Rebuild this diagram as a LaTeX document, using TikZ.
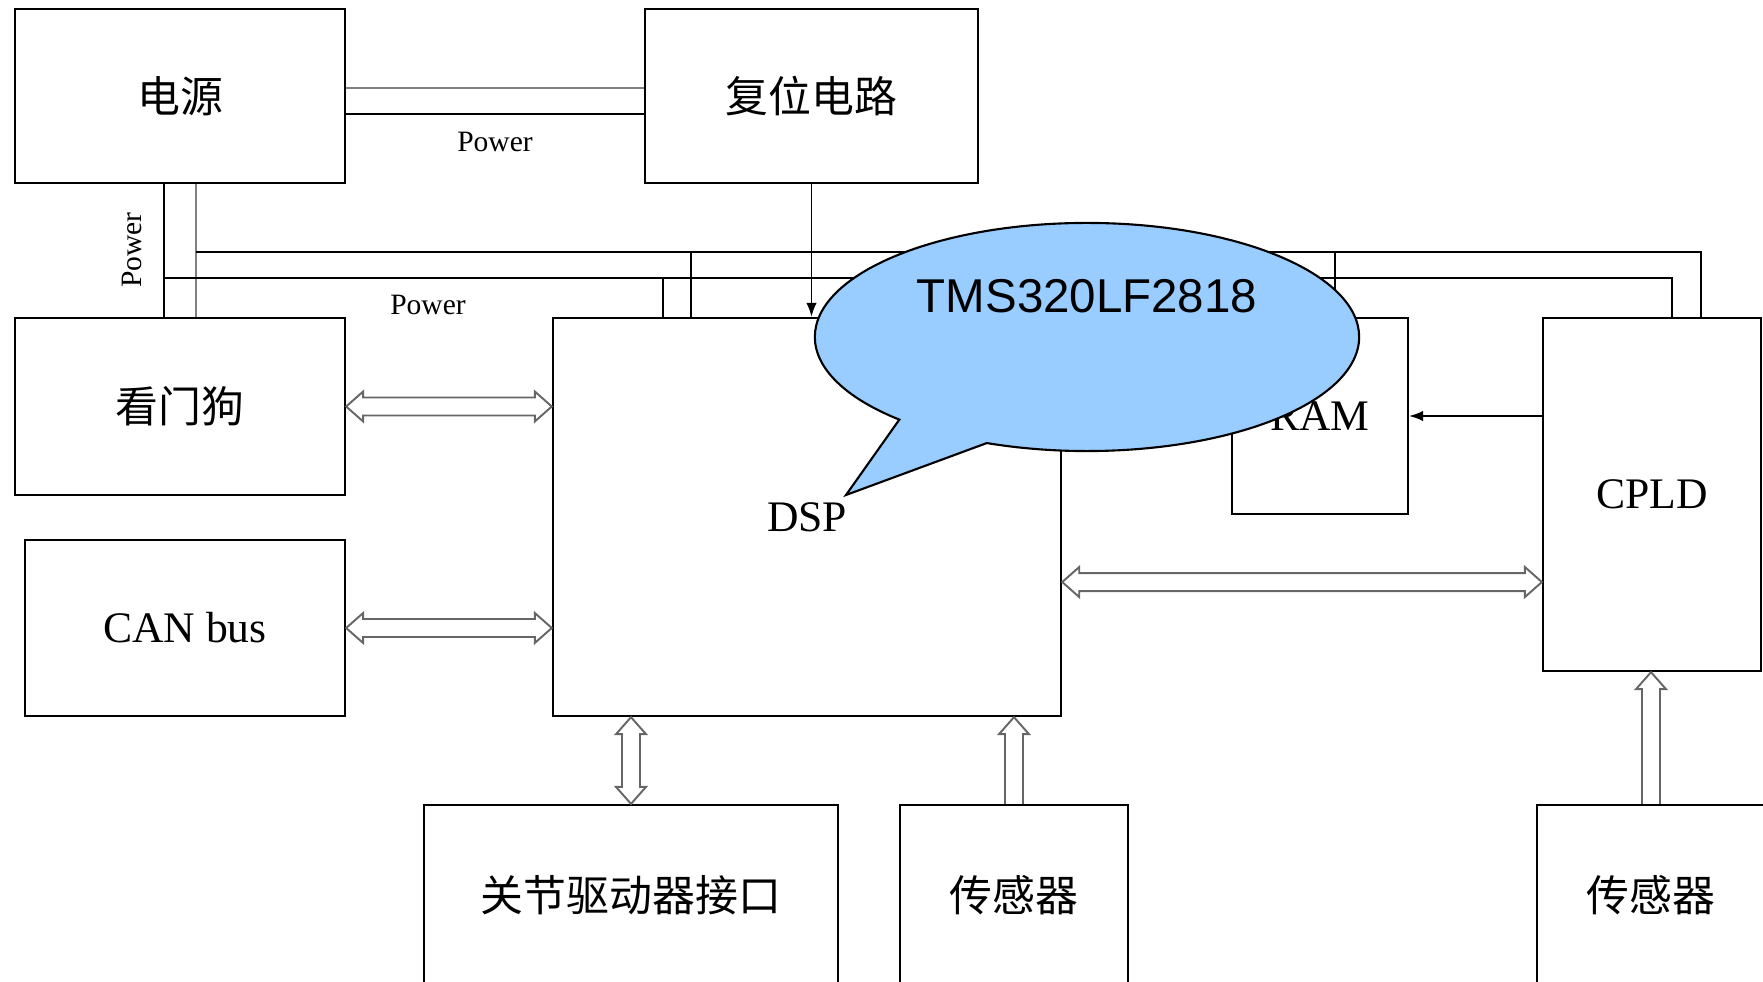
\documentclass[tikz,border=0pt]{standalone}
\usepackage{fontspec}
\setmainfont{Liberation Serif}
\newfontfamily\cjk{Noto Sans CJK SC}
\newfontfamily\arial{Liberation Sans}
\usetikzlibrary{calc,arrows.meta,shapes.callouts}
\definecolor{bubblue}{HTML}{99CCFF}
\tikzset{
  blk/.style={draw, line width=0.6pt, inner sep=0pt, font=\fontsize{12.4}{14}\selectfont},
  zh/.style={font=\cjk\fontsize{12.2}{14}\selectfont},
  pwr/.style={font=\fontsize{8.4}{10}\selectfont, inner sep=0pt},
  wire/.style={line width=0.5pt},
  tip/.style={-{Latex[length=4pt, width=3pt]}},
  % hollow block arrow, heads at both ends
  biarrow/.style={draw=black!60, line width=0.55pt, fill=white, to path={
    let \p1=(\tikztostart), \p2=(\tikztotarget), \n1={atan2(\y2-\y1,\x2-\x1)} in
      -- ($(\p1)+(\n1:0.17cm)+(\n1+90:0.15cm)$) -- ($(\p1)+(\n1:0.17cm)+(\n1+90:0.09cm)$)
      -- ($(\p2)+(\n1+180:0.17cm)+(\n1+90:0.09cm)$) -- ($(\p2)+(\n1+180:0.17cm)+(\n1+90:0.15cm)$)
      -- (\p2)
      -- ($(\p2)+(\n1+180:0.17cm)+(\n1-90:0.15cm)$) -- ($(\p2)+(\n1+180:0.17cm)+(\n1-90:0.09cm)$)
      -- ($(\p1)+(\n1:0.17cm)+(\n1-90:0.09cm)$) -- ($(\p1)+(\n1:0.17cm)+(\n1-90:0.15cm)$)
      -- cycle}},
  % hollow block arrow, head at the end only
  uparrow/.style={draw=black!60, line width=0.55pt, fill=white, to path={
    let \p1=(\tikztostart), \p2=(\tikztotarget), \n1={atan2(\y2-\y1,\x2-\x1)} in
      ($(\p1)+(\n1+90:0.09cm)$)
      -- ($(\p2)+(\n1+180:0.17cm)+(\n1+90:0.09cm)$) -- ($(\p2)+(\n1+180:0.17cm)+(\n1+90:0.15cm)$)
      -- (\p2)
      -- ($(\p2)+(\n1+180:0.17cm)+(\n1-90:0.15cm)$) -- ($(\p2)+(\n1+180:0.17cm)+(\n1-90:0.09cm)$)
      -- ($(\p1)+(\n1-90:0.09cm)$)}}
}

\begin{document}
\begin{tikzpicture}[x=0.01cm, y=-0.01cm]
    \useasboundingbox (0,0) rectangle (1763,982);
    \clip (0,0) rectangle (1763,982);

    % blocks
    \node[blk, zh, minimum width=3.30cm, minimum height=1.74cm] (psu) at (180,96) {电源};
    \node[blk, zh, minimum width=3.33cm, minimum height=1.74cm] (rst) at (811.5,96) {复位电路};
    \node[blk, zh, minimum width=3.30cm, minimum height=1.77cm] (wdg) at (180,406.5) {看门狗};
    \node[blk, minimum width=3.20cm, minimum height=1.76cm] (can) at (185,628) {CAN bus};
    \node[blk, minimum width=5.08cm, minimum height=3.98cm] (dsp) at (807,517) {DSP};
    \node[blk, minimum width=1.76cm, minimum height=1.96cm] (ram) at (1320,416) {RAM};
    \node[blk, minimum width=2.18cm, minimum height=3.53cm] (cpld) at (1652,494.5) {CPLD};
    \node[blk, zh, minimum width=4.14cm, minimum height=1.80cm] (jnt) at (631,895) {关节驱动器接口};
    \node[blk, zh, minimum width=2.28cm, minimum height=1.80cm] (sen1) at (1014,895) {传感器};
    \node[blk, zh, minimum width=2.28cm, minimum height=1.80cm] (sen2) at (1651,895) {传感器};

    % power lines
    \draw[wire, gray] ([yshift=0.08cm]psu.east) -- ([yshift=0.08cm]rst.west);
    \draw[wire] ([yshift=-0.18cm]psu.east) -- ([yshift=-0.18cm]rst.west);
    \node[pwr] (p1) at (495,142) {Power};
    \draw[wire] ([xshift=-0.16cm]psu.south) -- ([xshift=-0.16cm]wdg.north);
    \draw[wire, gray] ([xshift=0.16cm]psu.south) -- ([xshift=0.16cm]wdg.north);
    \node[pwr, rotate=90] (p2) at (132,250) {Power};
    \coordinate (bus1) at (164,278);
    \coordinate (bus2) at (196,252);
    \draw[wire] (bus1) -| ([xshift=0.20cm]cpld.north);
    \draw[wire] (bus2) -| ([xshift=0.49cm]cpld.north);
    \foreach \dx/\dy in {-1.44/40, -1.16/66}{
        \draw[wire] ([xshift=\dx cm]dsp.north) -- +(0,-\dy);
    }
    \draw[wire] ([xshift=0.15cm]ram.north) -- +(0,-66);
    \node[pwr] (p3) at (428,305) {Power};

    % control
    \draw[wire, tip] (rst.south) -- (rst.south |- dsp.north);
    \draw[wire, tip] (cpld.west |- ram.east) -- (ram.east);

    % buses
    \draw[biarrow] (wdg.east) to (wdg.east -| dsp.west);
    \draw[biarrow] (can.east) to (can.east -| dsp.west);
    \coordinate (dc) at ([yshift=-0.65cm]dsp.east);
    \draw[biarrow] (dc) to (dc -| cpld.west);
    \draw[biarrow] (jnt.north) to (jnt.north |- dsp.south);
    \draw[uparrow] (sen1.north) to (sen1.north |- dsp.south);
    \draw[uparrow] (sen2.north) to (sen2.north |- cpld.south);

    % callout
    \node[ellipse callout, draw, line width=0.6pt, fill=bubblue, inner sep=0pt,
          minimum width=5.44cm, minimum height=2.28cm,
          callout absolute pointer={(846,495)}, callout pointer arc=22] (bubble) at (1087,337) {};
    \node[font=\arial\fontsize{13.5}{16}\selectfont] (chip) at ([yshift=0.41cm]bubble.center) {TMS320LF2818};
\end{tikzpicture}
\end{document}
